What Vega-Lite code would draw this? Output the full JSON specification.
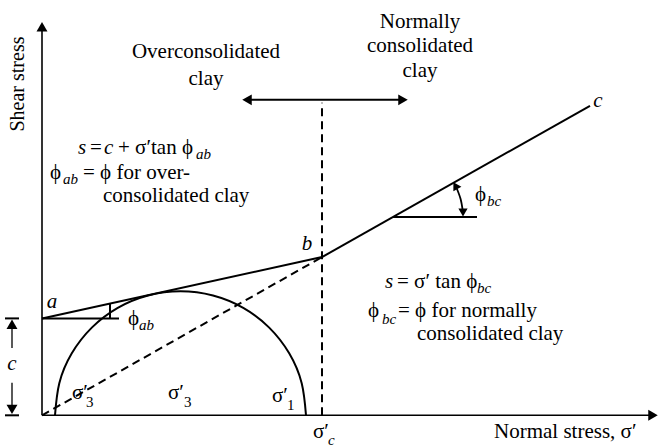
{
  "$schema": "https://vega.github.io/schema/vega-lite/v6.json",
  "width": 658,
  "height": 448,
  "autosize": {"type": "fit", "contains": "padding"},
  "padding": 0,
  "background": "white",
  "config": {"view": {"stroke": null}, "text": {"font": "Liberation Serif", "color": "black"}},
  "datasets": {
    "segs": [
      {"x": 0, "y": 0, "x2": 0, "y2": 392, "kind": "axis"},
      {"x": 0, "y": 0, "x2": 612, "y2": 0, "kind": "axis"},
      {"x": 0, "y": 98, "x2": 280, "y2": 160, "kind": "solid"},
      {"x": 280, "y": 160, "x2": 548, "y2": 313, "kind": "solid"},
      {"x": 0, "y": 98, "x2": 77, "y2": 98, "kind": "solid"},
      {"x": 68, "y": 98, "x2": 68, "y2": 113, "kind": "solid"},
      {"x": 351, "y": 200.6, "x2": 435, "y2": 200.6, "kind": "solid"},
      {"x": 206, "y": 319, "x2": 360, "y2": 319, "kind": "solid"},
      {"x": -37, "y": 98, "x2": -23, "y2": 98, "kind": "solid"},
      {"x": -37, "y": 0, "x2": -23, "y2": 0, "kind": "solid"},
      {"x": -30, "y": 88, "x2": -30, "y2": 68, "kind": "thin"},
      {"x": -30, "y": 33, "x2": -30, "y2": 10, "kind": "thin"},
      {"x": 280, "y": 0, "x2": 280, "y2": 316, "kind": "dash"},
      {"x": 0, "y": 0, "x2": 280, "y2": 160, "kind": "dash"}
    ],
    "circle": [
      {"x": 264, "y": 0, "o": 0},
      {"x": 259.7, "y": 32.5, "o": 1},
      {"x": 247.2, "y": 62.75, "o": 2},
      {"x": 227.2, "y": 88.7, "o": 3},
      {"x": 201.25, "y": 108.7, "o": 4},
      {"x": 171.0, "y": 121.2, "o": 5},
      {"x": 138.5, "y": 125.5, "o": 6},
      {"x": 106.0, "y": 121.2, "o": 7},
      {"x": 75.75, "y": 108.7, "o": 8},
      {"x": 49.8, "y": 88.7, "o": 9},
      {"x": 29.8, "y": 62.75, "o": 10},
      {"x": 17.3, "y": 32.5, "o": 11},
      {"x": 13, "y": 0, "o": 12}
    ],
    "arc": [
      {"x": 414.9, "y": 229.1, "o": 0},
      {"x": 418.6, "y": 218.7, "o": 1},
      {"x": 420.6, "y": 207.9, "o": 2}
    ],
    "heads": [
      {"x": 0, "y": 393, "dir": "up"},
      {"x": 611, "y": 0, "dir": "right"},
      {"x": 205, "y": 319, "dir": "left"},
      {"x": 361, "y": 319, "dir": "right"},
      {"x": -30, "y": 92, "dir": "up"},
      {"x": -30, "y": 6, "dir": "down"},
      {"x": 413.4, "y": 232.3, "dir": "arcup"},
      {"x": 421, "y": 205, "dir": "arcdown"}
    ],
    "texts": [
      {"x": 164, "y": 367, "text": "Overconsolidated", "role": "big"},
      {"x": 164, "y": 340, "text": "clay", "role": "big"},
      {"x": 378, "y": 398, "text": "Normally", "role": "big"},
      {"x": 378, "y": 373, "text": "consolidated", "role": "big"},
      {"x": 378, "y": 348, "text": "clay", "role": "big"},
      {"x": 48, "y": 270, "text": "=", "role": "left"},
      {"x": 76, "y": 270, "text": "+ σ′tan ϕ", "role": "left"},
      {"x": 8, "y": 245, "text": "ϕ", "role": "left"},
      {"x": 41, "y": 245, "text": "= ϕ for over-", "role": "left"},
      {"x": 61, "y": 222, "text": "consolidated clay", "role": "left"},
      {"x": 355, "y": 135, "text": "= σ′ tan ϕ", "role": "left"},
      {"x": 326, "y": 105, "text": "ϕ", "role": "left"},
      {"x": 356, "y": 105, "text": "= ϕ for normally", "role": "left"},
      {"x": 375, "y": 82, "text": "consolidated clay", "role": "left"},
      {"x": 86, "y": 97, "text": "ϕ", "role": "left"},
      {"x": 433, "y": 223, "text": "ϕ", "role": "left"},
      {"x": 30, "y": 23, "text": "σ′", "role": "left"},
      {"x": 126, "y": 23, "text": "σ′", "role": "left"},
      {"x": 230, "y": 20, "text": "σ′", "role": "left"},
      {"x": 271, "y": -17, "text": "σ′", "role": "left"},
      {"x": 452, "y": -17, "text": "Normal stress, σ′", "role": "left"},
      {"x": 36, "y": 270, "text": "s", "role": "ital"},
      {"x": 62, "y": 270, "text": "c", "role": "ital"},
      {"x": 343, "y": 135, "text": "s", "role": "ital"},
      {"x": 154, "y": 264, "text": "ab", "role": "sub"},
      {"x": 21, "y": 239, "text": "ab", "role": "sub"},
      {"x": 435, "y": 129, "text": "bc", "role": "sub"},
      {"x": 340, "y": 97, "text": "bc", "role": "sub"},
      {"x": 97, "y": 91, "text": "ab", "role": "sub"},
      {"x": 445, "y": 217, "text": "bc", "role": "sub"},
      {"x": 286, "y": -25, "text": "c", "role": "sub"},
      {"x": 44, "y": 13, "text": "3", "role": "subnum"},
      {"x": 142, "y": 13, "text": "3", "role": "subnum"},
      {"x": 245, "y": 10, "text": "1", "role": "subnum"},
      {"x": 10, "y": 115, "text": "a", "role": "label"},
      {"x": 265, "y": 173, "text": "b", "role": "label"},
      {"x": 556, "y": 318, "text": "c", "role": "label"},
      {"x": -30, "y": 52, "text": "c", "role": "label"},
      {"x": -24, "y": 335, "text": "Shear stress", "role": "ylabel"}
    ]
  },
  "encoding": {
    "x": {"field": "x", "type": "quantitative", "scale": {"domain": [-42, 616], "nice": false, "zero": false}, "axis": null},
    "y": {"field": "y", "type": "quantitative", "scale": {"domain": [-28, 420], "nice": false, "zero": false}, "axis": null}
  },
  "layer": [
    {
      "data": {"name": "circle"},
      "mark": {"type": "line", "interpolate": "natural", "stroke": "black", "strokeWidth": 2},
      "encoding": {"order": {"field": "o", "type": "quantitative"}}
    },
    {
      "data": {"name": "arc"},
      "mark": {"type": "line", "interpolate": "natural", "stroke": "black", "strokeWidth": 1.8},
      "encoding": {"order": {"field": "o", "type": "quantitative"}}
    },
    {
      "data": {"name": "segs"},
      "transform": [{"filter": "datum.kind == 'axis'"}],
      "mark": {"type": "rule", "stroke": "black", "strokeWidth": 1.6},
      "encoding": {"x2": {"field": "x2"}, "y2": {"field": "y2"}}
    },
    {
      "data": {"name": "segs"},
      "transform": [{"filter": "datum.kind == 'solid'"}],
      "mark": {"type": "rule", "stroke": "black", "strokeWidth": 2},
      "encoding": {"x2": {"field": "x2"}, "y2": {"field": "y2"}}
    },
    {
      "data": {"name": "segs"},
      "transform": [{"filter": "datum.kind == 'thin'"}],
      "mark": {"type": "rule", "stroke": "black", "strokeWidth": 1.3},
      "encoding": {"x2": {"field": "x2"}, "y2": {"field": "y2"}}
    },
    {
      "data": {"name": "segs"},
      "transform": [{"filter": "datum.kind == 'dash'"}],
      "mark": {"type": "rule", "stroke": "black", "strokeWidth": 2, "strokeDash": [8, 5]},
      "encoding": {"x2": {"field": "x2"}, "y2": {"field": "y2"}}
    },
    {
      "data": {"name": "heads"},
      "transform": [{"filter": "indexof(['up','down','left','right'], datum.dir) >= 0"}],
      "mark": {"type": "point", "filled": true, "color": "black", "opacity": 1, "size": 120},
      "encoding": {
        "shape": {"field": "dir", "type": "nominal", "scale": {"domain": ["up", "down", "left", "right"], "range": ["triangle-up", "triangle-down", "triangle-left", "triangle-right"]}, "legend": null}
      }
    },
    {
      "data": {"name": "heads"},
      "transform": [{"filter": "datum.dir == 'arcup'"}],
      "mark": {"type": "point", "filled": true, "color": "black", "opacity": 1, "size": 85, "shape": "triangle-up", "angle": -30}
    },
    {
      "data": {"name": "heads"},
      "transform": [{"filter": "datum.dir == 'arcdown'"}],
      "mark": {"type": "point", "filled": true, "color": "black", "opacity": 1, "size": 85, "shape": "triangle-down"}
    },
    {
      "data": {"name": "texts"},
      "transform": [{"filter": "datum.role == 'big'"}],
      "mark": {"type": "text", "fontSize": 21, "align": "center", "baseline": "middle"},
      "encoding": {"text": {"field": "text"}}
    },
    {
      "data": {"name": "texts"},
      "transform": [{"filter": "datum.role == 'left'"}],
      "mark": {"type": "text", "fontSize": 21, "align": "left", "baseline": "middle"},
      "encoding": {"text": {"field": "text"}}
    },
    {
      "data": {"name": "texts"},
      "transform": [{"filter": "datum.role == 'ital'"}],
      "mark": {"type": "text", "fontSize": 21, "fontStyle": "italic", "align": "left", "baseline": "middle"},
      "encoding": {"text": {"field": "text"}}
    },
    {
      "data": {"name": "texts"},
      "transform": [{"filter": "datum.role == 'sub'"}],
      "mark": {"type": "text", "fontSize": 15, "fontStyle": "italic", "align": "left", "baseline": "middle"},
      "encoding": {"text": {"field": "text"}}
    },
    {
      "data": {"name": "texts"},
      "transform": [{"filter": "datum.role == 'subnum'"}],
      "mark": {"type": "text", "fontSize": 15, "align": "left", "baseline": "middle"},
      "encoding": {"text": {"field": "text"}}
    },
    {
      "data": {"name": "texts"},
      "transform": [{"filter": "datum.role == 'label'"}],
      "mark": {"type": "text", "fontSize": 21, "fontStyle": "italic", "align": "center", "baseline": "middle"},
      "encoding": {"text": {"field": "text"}}
    },
    {
      "data": {"name": "texts"},
      "transform": [{"filter": "datum.role == 'ylabel'"}],
      "mark": {"type": "text", "fontSize": 20, "align": "center", "baseline": "middle", "angle": 270},
      "encoding": {"text": {"field": "text"}}
    }
  ]
}
